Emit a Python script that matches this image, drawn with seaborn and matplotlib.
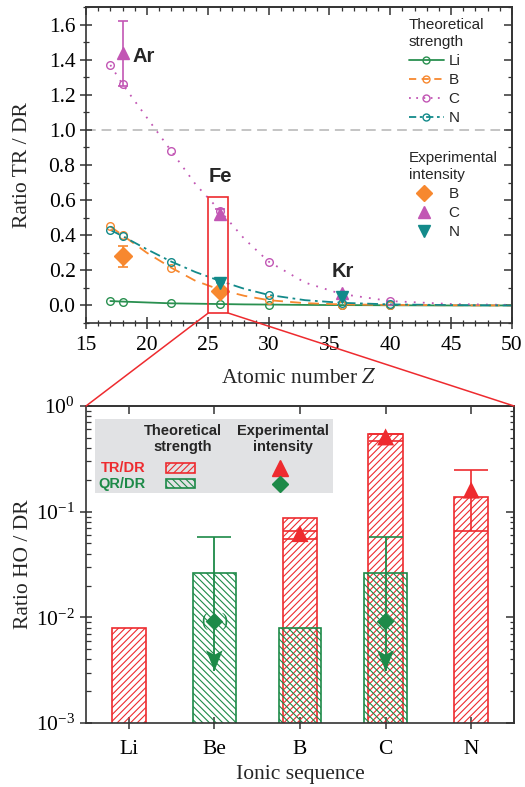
import numpy as np
import pandas as pd
import matplotlib
matplotlib.use("Agg")
import matplotlib.pyplot as plt
import seaborn as sns
from matplotlib.patches import Rectangle, ConnectionPatch
from matplotlib.lines import Line2D
from matplotlib.path import Path
from matplotlib.ticker import MultipleLocator, LogLocator, NullFormatter, FixedLocator, FormatStrFormatter

# ---------------- data: top panel ----------------
Z_pts = [17, 18, 22, 26, 30, 36, 40]
li_pts = [0.025, 0.022, 0.012, 0.008, 0.005, 0.002, 0.001]
b_pts = [0.45, 0.40, 0.215, 0.09, 0.03, 0.005, 0.003]
c_pts = [1.37, 1.26, 0.88, 0.54, 0.25, 0.06, 0.025]
n_pts = [0.43, 0.395, 0.25, 0.14, 0.06, 0.015, 0.008]

Z_curve = [17, 18, 20, 22, 24, 26, 28, 30, 33, 36, 40, 45, 50]
li_curve = [0.025, 0.022, 0.017, 0.012, 0.010, 0.008, 0.006, 0.005, 0.003, 0.002, 0.001, 0.0, 0.0]
b_curve = [0.45, 0.40, 0.30, 0.215, 0.14, 0.09, 0.055, 0.03, 0.013, 0.006, 0.003, 0.001, 0.0]
c_curve = [1.37, 1.26, 1.07, 0.88, 0.69, 0.54, 0.38, 0.25, 0.13, 0.065, 0.025, 0.008, 0.003]
n_curve = [0.43, 0.395, 0.32, 0.25, 0.19, 0.14, 0.095, 0.06, 0.03, 0.015, 0.006, 0.002, 0.0]

expB_Z = [18, 26]
expB = [0.28, 0.08]
expB_err = [0.06, 0.0]
expC_Z = [18, 26, 36]
expC = [1.44, 0.52, 0.07]
expC_lo = [0.19, 0.03, 0.0]
expC_hi = [0.18, 0.03, 0.0]
expN_Z = [26, 36]
expN = [0.13, 0.05]

# ---------------- data: bottom panel ----------------
ions = ["Li", "Be", "B", "C", "N"]
tr_theory = [0.008, np.nan, 0.088, 0.545, 0.137]
qr_theory = [np.nan, 0.026, 0.008, 0.026, np.nan]
tr_exp_ions = ["B", "C", "N"]
tr_exp = [0.062, 0.51, 0.16]
tr_exp_low = [0.055, 0.47, 0.066]
tr_exp_high = [0.066, 0.545, 0.248]
qr_exp_ions = ["Be", "C"]
qr_exp = [0.0091, 0.0091]
qr_exp_high = [0.057, 0.057]
qr_arrow_tip = [0.0031, 0.0031]

# ---------------- style ----------------
sns.set_style("ticks")
plt.rcParams["font.family"] = ["Liberation Serif", "DejaVu Serif"]
plt.rcParams["mathtext.fontset"] = "stix"
plt.rcParams["hatch.linewidth"] = 0.8
SANS = ["Liberation Sans", "DejaVu Sans"]

c_li = "#2a9050"
c_b = "#f7882f"
c_c = "#c256b4"
c_n = "#138a8a"
RED = "#ee2b2f"
GRN = "#1d8a48"
SPINE = "#333333"

fig = plt.figure(figsize=(5.25, 7.87), dpi=100)
ax1 = fig.add_axes([86 / 525, 1 - 323 / 787, 426 / 525, 316 / 787])
ax2 = fig.add_axes([86 / 525, 1 - 723 / 787, 428 / 525, 317 / 787])

# ---------------- top panel ----------------
ax1.axhline(1.0, color="#c4c4c4", ls=(0, (5, 3)), lw=1.4, zorder=0)

styles = [
    (li_curve, li_pts, c_li, "-"),
    (b_curve, b_pts, c_b, (0, (6, 4))),
    (c_curve, c_pts, c_c, (0, (1, 4))),
    (n_curve, n_pts, c_n, (0, (6, 2.5, 1.5, 2.5))),
]
for curve, pts, col, ls in styles:
    sns.lineplot(x=Z_curve, y=curve, ax=ax1, color=col, linestyle=ls, lw=1.3, zorder=2)
    ax1.plot(Z_pts, pts, "o", mfc="none", mec=col, mew=1.0, ms=5.5, zorder=3)

ax1.errorbar(expB_Z, expB, yerr=expB_err, fmt="D", color=c_b, ms=9, capsize=3.5, elinewidth=1.2, capthick=1.2, zorder=5)
ax1.errorbar(expC_Z, expC, yerr=[expC_lo, expC_hi], fmt="^", color=c_c, ms=9, capsize=3.5, elinewidth=1.2, capthick=1.2, zorder=5)
ax1.errorbar(expN_Z, expN, fmt="v", color=c_n, ms=9, zorder=6)

ax1.text(18.85, 1.42, "Ar", fontfamily=SANS, fontweight="bold", fontsize=14.5, va="center", ha="left")
ax1.text(25.1, 0.735, "Fe", fontfamily=SANS, fontweight="bold", fontsize=14.5, va="center", ha="left")
ax1.text(35.2, 0.195, "Kr", fontfamily=SANS, fontweight="bold", fontsize=14.5, va="center", ha="left")

ax1.add_patch(Rectangle((25.05, -0.043), 1.62, 0.661, fill=False, ec=RED, lw=1.2, zorder=7))

ax1.set_xlim(15, 50)
ax1.set_ylim(-0.1, 1.7)
ax1.xaxis.set_major_locator(MultipleLocator(5))
ax1.xaxis.set_minor_locator(MultipleLocator(1))
ax1.yaxis.set_major_locator(MultipleLocator(0.2))
ax1.yaxis.set_minor_locator(MultipleLocator(0.1))
ax1.yaxis.set_major_formatter(FormatStrFormatter("%.1f"))
ax1.set_xlabel("Atomic number $Z$", fontsize=15.5, labelpad=10)
ax1.set_ylabel("Ratio TR / DR", fontsize=15.5, labelpad=12)

theo_handles = [
    Line2D([], [], color=c_li, ls="-", marker="o", mfc="none", ms=5, lw=1.3),
    Line2D([], [], color=c_b, ls=(0, (4, 3)), marker="o", mfc="none", ms=5, lw=1.3),
    Line2D([], [], color=c_c, ls=(0, (1, 3)), marker="o", mfc="none", ms=5, lw=1.3),
    Line2D([], [], color=c_n, ls=(0, (4, 2, 1.5, 2)), marker="o", mfc="none", ms=5, lw=1.3),
]
leg1 = ax1.legend(theo_handles, ["Li", "B", "C", "N"], title="Theoretical\nstrength",
                  loc="upper left", bbox_to_anchor=(0.75, 0.976), frameon=False,
                  alignment="left", prop={"family": SANS, "size": 11},
                  title_fontproperties={"family": SANS, "size": 11}, borderaxespad=0,
                  handlelength=2.3, handletextpad=0.3, labelspacing=0.33, borderpad=0.2)
leg1.get_title().set_linespacing(1.3)
ax1.add_artist(leg1)
exp_handles = [
    Line2D([], [], color=c_b, ls="none", marker="D", ms=8),
    Line2D([], [], color=c_c, ls="none", marker="^", ms=9),
    Line2D([], [], color=c_n, ls="none", marker="v", ms=9),
]
leg2 = ax1.legend(exp_handles, ["B", "C", "N"], title="Experimental\nintensity",
                  loc="upper left", bbox_to_anchor=(0.75, 0.554), frameon=False,
                  alignment="left", prop={"family": SANS, "size": 11},
                  title_fontproperties={"family": SANS, "size": 11}, borderaxespad=0,
                  handlelength=2.0, handletextpad=0.6, labelspacing=0.33, borderpad=0.2)
leg2.get_title().set_linespacing(1.3)

# ---------------- bottom panel ----------------
df = pd.DataFrame({"ion": ions, "tr": tr_theory, "qr": qr_theory})
n0 = len(ax2.patches)
sns.barplot(data=df, x="ion", y="tr", order=ions, width=0.4, color=RED, errorbar=None, ax=ax2)
for p in ax2.patches[n0:]:
    p.set_facecolor("none"); p.set_edgecolor(RED); p.set_hatch("/////"); p.set_linewidth(1.2)
n1 = len(ax2.patches)
sns.barplot(data=df, x="ion", y="qr", order=ions, width=0.5, color=GRN, errorbar=None, ax=ax2)
for p in ax2.patches[n1:]:
    p.set_facecolor("none"); p.set_edgecolor(GRN); p.set_hatch("\\\\\\\\\\"); p.set_linewidth(1.2)

ax2.set_yscale("log")

tr_pos = [ions.index(i) for i in tr_exp_ions]
tr_lo = [v - l for v, l in zip(tr_exp, tr_exp_low)]
tr_hi = [h - v for v, h in zip(tr_exp, tr_exp_high)]
ax2.errorbar(tr_pos, tr_exp, yerr=[tr_lo, tr_hi], fmt="none", ecolor=RED, capsize=12.3, elinewidth=1.2, capthick=1.2, zorder=5)
sns.scatterplot(x=tr_pos, y=tr_exp, marker="^", color=RED, s=150, edgecolor="none", ax=ax2, zorder=6)

# green experimental: upper limit bar with downward arrow
qr_pos = [ions.index(i) for i in qr_exp_ions]
qr_lo = [v - t for v, t in zip(qr_exp, qr_arrow_tip)]
qr_hi = [h - v for v, h in zip(qr_exp, qr_exp_high)]
_, caps, _ = ax2.errorbar(qr_pos, qr_exp, yerr=[qr_lo, qr_hi], fmt="none", ecolor=GRN,
                          capsize=12.3, elinewidth=1.3, capthick=1.2, zorder=5)
for cl in caps:
    yd = np.asarray(cl.get_ydata(), dtype=float)
    if np.allclose(yd, qr_arrow_tip):
        cl.set_visible(False)
arrow_head = Path([(0, 0), (-0.4, 1.0), (0, 0.78), (0.4, 1.0), (0, 0)],
                  [Path.MOVETO, Path.LINETO, Path.LINETO, Path.LINETO, Path.CLOSEPOLY])
sns.scatterplot(x=qr_pos, y=qr_arrow_tip, marker=arrow_head, color=GRN, s=900, edgecolor="none",
                ax=ax2, zorder=6)
sns.scatterplot(x=qr_pos, y=qr_exp, marker="D", color=GRN, s=80, edgecolor="none", ax=ax2, zorder=6)
be = ions.index("Be")
ax2.annotate("(", xy=(be, qr_exp[0]), xytext=(-7.5, 0), textcoords="offset points", color=GRN,
             fontsize=13, ha="center", va="center")
ax2.annotate(")", xy=(be, qr_exp[0]), xytext=(7.5, 0), textcoords="offset points", color=GRN,
             fontsize=13, ha="center", va="center")

ax2.set_xlim(-0.5, 4.5)
ax2.set_ylim(1e-3, 1)
ax2.yaxis.set_major_locator(LogLocator(base=10, numticks=10))
ax2.yaxis.set_minor_locator(LogLocator(base=10, subs=np.arange(2, 10), numticks=20))
ax2.yaxis.set_minor_formatter(NullFormatter())
ax2.set_xlabel("Ionic sequence", fontsize=15.5, labelpad=4)
ax2.set_ylabel("Ratio HO / DR", fontsize=15.5, labelpad=2)

# inset legend box of bottom panel
ax2.add_patch(Rectangle((0.021, 0.724), 0.556, 0.234, transform=ax2.transAxes, fc="#e1e2e4", ec="none", zorder=1))
ax2.text(0.227, 0.896, "Theoretical\nstrength", transform=ax2.transAxes, ha="center", va="center",
         fontfamily=SANS, fontweight="bold", fontsize=10.5, linespacing=1.15, zorder=8)
ax2.text(0.46, 0.896, "Experimental\nintensity", transform=ax2.transAxes, ha="center", va="center",
         fontfamily=SANS, fontweight="bold", fontsize=10.5, linespacing=1.15, zorder=8)
ax2.text(0.138, 0.803, "TR/DR", transform=ax2.transAxes, ha="right", va="center", color=RED,
         fontfamily=SANS, fontweight="bold", fontsize=10.5, zorder=8)
ax2.text(0.138, 0.753, "QR/DR", transform=ax2.transAxes, ha="right", va="center", color=GRN,
         fontfamily=SANS, fontweight="bold", fontsize=10.5, zorder=8)
ax2.add_patch(Rectangle((0.187, 0.790), 0.068, 0.031, transform=ax2.transAxes, fc="none", ec=RED,
                        hatch="/////", lw=1.2, zorder=8))
ax2.add_patch(Rectangle((0.187, 0.740), 0.068, 0.031, transform=ax2.transAxes, fc="none", ec=GRN,
                        hatch="\\\\\\\\\\", lw=1.2, zorder=8))
ax2.plot([0.453], [0.803], marker="^", color=RED, ms=11, transform=ax2.transAxes, zorder=8, clip_on=False)
ax2.plot([0.453], [0.753], marker="D", color=GRN, ms=8, transform=ax2.transAxes, zorder=8, clip_on=False)

# ---------------- common axis styling ----------------
for ax in (ax1, ax2):
    for s in ax.spines.values():
        s.set_visible(True); s.set_color(SPINE); s.set_linewidth(1.2)
    ax.tick_params(which="both", direction="inout", top=False, right=False, colors=SPINE, labelcolor="black")
    ax.tick_params(which="major", length=9, width=1.1, labelsize=15.5)
    ax.tick_params(which="minor", length=5, width=0.9)
ax1.tick_params(axis="x", which="major", pad=5)
ax1.tick_params(axis="y", which="major", pad=3)
ax2.tick_params(axis="x", which="major", pad=8)
ax2.tick_params(axis="x", which="minor", bottom=False)
ax2.tick_params(axis="y", which="minor", direction="in", length=3.5)

# inward ticks on the top and right sides
sx1 = ax1.secondary_xaxis("top")
sx1.xaxis.set_major_locator(MultipleLocator(5))
sx1.xaxis.set_minor_locator(MultipleLocator(1))
sy1 = ax1.secondary_yaxis("right")
sy1.yaxis.set_major_locator(MultipleLocator(0.2))
sy1.yaxis.set_minor_locator(MultipleLocator(0.1))
sx2 = ax2.secondary_xaxis("top")
sx2.xaxis.set_major_locator(FixedLocator(range(len(ions))))
sx2.xaxis.set_minor_locator(FixedLocator([]))
sy2 = ax2.secondary_yaxis("right")
sy2.yaxis.set_major_locator(LogLocator(base=10, numticks=10))
sy2.yaxis.set_minor_locator(LogLocator(base=10, subs=np.arange(2, 10), numticks=20))
for sec in (sx1, sy1, sx2, sy2):
    for s in sec.spines.values():
        s.set_color(SPINE); s.set_linewidth(1.2)
    sec.tick_params(which="both", direction="in", colors=SPINE, labeltop=False, labelright=False,
                    labelbottom=False, labelleft=False)
    sec.tick_params(which="major", length=5.5, width=1.1)
    sec.tick_params(which="minor", length=3.2, width=0.9)

# zoom connection lines
for xa, xb in ((25.05, 0.0), (26.67, 1.0)):
    con = ConnectionPatch(xyA=(xa, -0.043), coordsA=ax1.transData, xyB=(xb, 1.0), coordsB=ax2.transAxes,
                          color=RED, lw=1.1)
    fig.add_artist(con)

fig.savefig("out.png", dpi=100)
